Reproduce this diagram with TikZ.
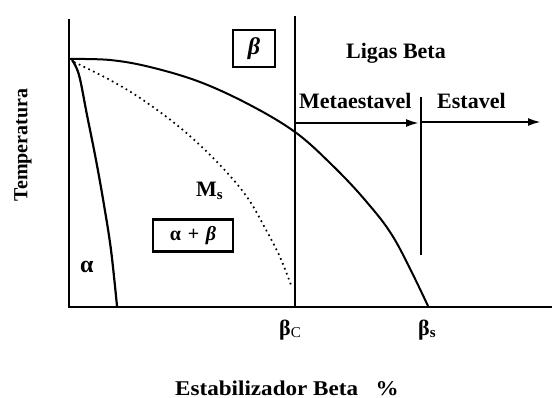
\documentclass[tikz,border=0pt]{standalone}
\usepackage{fontspec}
\setmainfont{Liberation Serif}
\usetikzlibrary{arrows.meta}
\newcommand{\fsz}[1]{\fontsize{#1}{#1}\selectfont}
\begin{document}
\begin{tikzpicture}[x=1pt,y=-1pt,
  axis/.style={line width=2.8pt},
  phase/.style={line width=2pt},
  msline/.style={line width=1.7pt, dash pattern=on 1.7pt off 3.6pt},
  flow/.style={line width=2.2pt,-{Latex[length=13pt,width=8pt]}},
  lbl/.style={font=\bfseries\fsz{22}, inner sep=0pt},
  regbox/.style={draw, line width=2.4pt, inner sep=0pt}
]
\useasboundingbox (0,0) rectangle (552,398);
% axes
\coordinate (ytop) at (69,19);
\coordinate (O) at (69,307);
\coordinate (xend) at (552,307);
\draw[axis] (ytop) -- (O) -- (xend);
% vertical lines
\coordinate (bctop) at (295,16);
\coordinate (bcbot) at (295,307);
\draw[axis] (bctop) -- (bcbot);
\coordinate (bstop) at (421,97);
\coordinate (bsbot) at (421,255);
\draw[line width=2.4pt] (bstop) -- (bsbot);
% arrows
\coordinate (a1s) at (295,123);
\coordinate (a1e) at (419,123);
\coordinate (a2s) at (421,122);
\coordinate (a2e) at (541,122);
\draw[flow] (a1s) -- (a1e);
\draw[flow] (a2s) -- (a2e);
% beta transus
\draw[phase] plot[smooth, tension=0.6] coordinates {(70,59) (110,60) (150,67) (200,82) (250,105) (295,132) (330,163) (365,200) (395,240) (428,306)};
% alpha boundary
\draw[line width=2.2pt] plot[smooth, tension=0.6] coordinates {(72,60) (79,75) (87,115) (96,160) (104,205) (111,250) (117,306)};
% Ms line
\draw[msline] plot[smooth, tension=0.6] coordinates {(74,62) (110,80) (143,100) (183,130) (220,165) (247,197) (265,228) (280,257) (291,285)};
% labels
\node[regbox, minimum width=42pt, minimum height=37pt] (bbox) at (254,48.5) {\fsz{24}\bfseries\itshape β};
\node[regbox, minimum width=80pt, minimum height=32pt] (abbox) at (193,235.5) {\fsz{20}\bfseries α\,\,+\,\,\textit{β}};
\node[lbl, anchor=base] (ligas) at (396,59) {Ligas Beta};
\node[lbl, anchor=base west] (meta) at (299,109) {Metaestavel};
\node[lbl, anchor=base west] (est) at (437,109) {Estavel};
\node[lbl, anchor=base west] (ms) at (196,197) {M\raisebox{-3pt}{\fsz{15}s}};
\node[lbl, font=\bfseries\fsz{24}, anchor=base west] (alpha) at (80,273) {α};
\node[lbl, font=\bfseries\fsz{22}, anchor=base west] (bc) at (279,335) {β\raisebox{-2pt}{\fsz{15}\mdseries C}};
\node[lbl, font=\bfseries\fsz{22}, anchor=base west] (bs) at (418,335) {β\raisebox{-2pt}{\fsz{15}s}};
\node[lbl, font=\bfseries\fsz{20}, rotate=90] (temp) at (23,145) {Temperatura};
\node[lbl, font=\bfseries\fsz{21}, anchor=base west] (xlab) at (175,395) {\scalebox{1.1}[1]{Estabilizador Beta\hspace{16pt}\%}};
\end{tikzpicture}
\end{document}
